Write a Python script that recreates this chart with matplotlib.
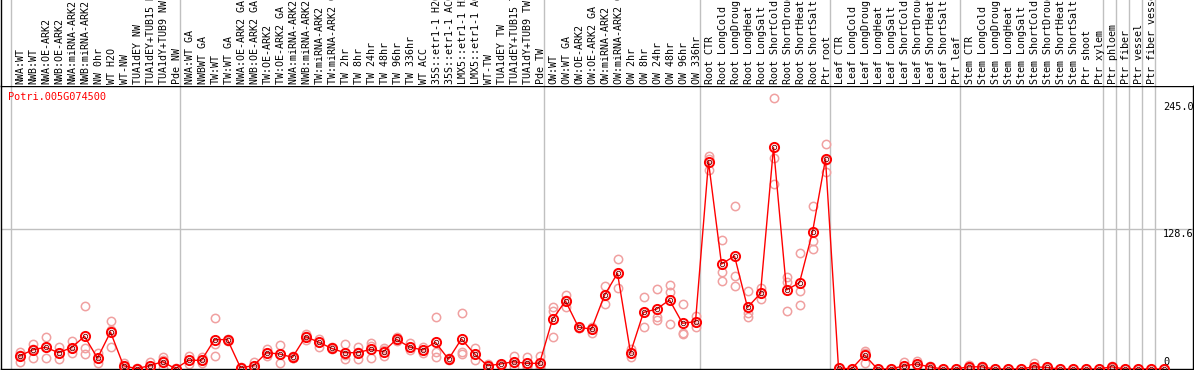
import numpy as np
import matplotlib.pyplot as plt

gene = 'Potri.005G074500'

labels = [
    'NWA:WT', 'NWB:WT', 'NWA:OE-ARK2', 'NWB:OE-ARK2', 'NWA:miRNA-ARK2',
    'NWB:miRNA-ARK2', 'NW 0hr', 'WT H2O', 'WT-NW', 'TUA1dEY NW',
    'TUA1dEY+TUB15 NW', 'TUA1dY+TUB9 NW', 'Pde NW',
    'NWA:WT GA', 'NWBWT GA', 'TW:WT', 'TW:WT GA', 'NWA:OE-ARK2 GA',
    'NWB:OE-ARK2 GA', 'TW:OE-ARK2', 'TW:OE-ARK2 GA', 'NWA:miRNA-ARK2 GA',
    'NWB:miRNA-ARK2 GA', 'TW:miRNA-ARK2', 'TW:miRNA-ARK2 GA', 'TW 2hr',
    'TW 8hr', 'TW 24hr', 'TW 48hr', 'TW 96hr', 'TW 336hr', 'WT ACC',
    '35S::etr1-1 H2O', '35S::etr1-1 ACC', 'LMX5::etr1-1 H2O',
    'LMX5::etr1-1 ACC', 'WT-TW', 'TUA1dEY TW', 'TUA1dEY+TUB15 TW',
    'TUA1dY+TUB9 TW', 'Pde TW',
    'OW:WT', 'OW:WT GA', 'OW:OE-ARK2', 'OW:OE-ARK2 GA', 'OW:miRNA-ARK2',
    'OW:miRNA-ARK2 GA', 'OW 2hr', 'OW 8hr', 'OW 24hr', 'OW 48hr', 'OW 96hr',
    'OW 336hr',
    'Root CTR', 'Root LongCold', 'Root LongDrought', 'Root LongHeat',
    'Root LongSalt', 'Root ShortCold', 'Root ShortDrought', 'Root ShortHeat',
    'Root ShortSalt', 'Ptr root',
    'Leaf CTR', 'Leaf LongCold', 'Leaf LongDrought', 'Leaf LongHeat',
    'Leaf LongSalt', 'Leaf ShortCold', 'Leaf ShortDrought', 'Leaf ShortHeat',
    'Leaf ShortSalt', 'Ptr leaf',
    'Stem CTR', 'Stem LongCold', 'Stem LongDrought', 'Stem LongHeat',
    'Stem LongSalt', 'Stem ShortCold', 'Stem ShortDrought', 'Stem ShortHeat',
    'Stem ShortSalt', 'Ptr shoot', 'Ptr xylem',
    'Ptr phloem', 'Ptr fiber', 'Ptr vessel', 'Ptr fiber vessel',
]

means = [
    12, 17.5, 20, 15, 19.6, 30, 10, 34, 3, 0.3, 3, 6.7, 0.3,
    8, 8, 27, 27, 1.2, 3, 15, 13.8, 10.7, 29.7, 24.8, 19, 15, 15, 18, 16,
    27.3, 20.2, 17.5, 24.5, 9, 27.6, 13.8, 3, 4.6, 6.7, 5.2, 5.2,
    45.6, 62.5, 38.3, 36.7, 67.7, 88, 15, 52, 55, 63.4, 42, 43.5,
    190.4, 96.4, 103.8, 56.6, 69.5, 203.5, 72.6, 79.3, 125.8, 192.9,
    1, 0, 12.9, 0, 0, 2.8, 4.6, 2, 0, 0,
    2, 2, 0, 0, 0, 2, 1.5, 0, 0, 0, 0, 2,
    0, 0, 0, 0,
]

reps = [
    [16, 6, 13], [23, 10.4, 18], [29, 9.8, 20], [20, 8.9, 15],
    [25.7, 15, 19], [57.6, 19, 13.8], [14.4, 5.8, 10], [43.8, 19.9, 36],
    [5.2, 1, 3], [0.5, 0, 0.3], [6.7, 1, 0.8], [10.7, 8, 1], [0.5, 0, 0.3],
    [12, 4.6, 8], [11, 5.8, 8], [46.8, 22.6, 12], [27, 26, 28],
    [1.5, 0.8, 1], [6.7, 1, 1], [18, 12, 15], [22, 5.2, 14], [12, 10, 10],
    [32, 27, 30], [28, 20.6, 25], [20.6, 18, 19], [23, 8.9, 13],
    [20, 8.9, 16], [23.6, 21, 10], [19, 12, 17], [27, 29, 26],
    [23.6, 17.2, 20], [20, 15, 17], [47.5, 15.3, 10.7], [9, 10, 8],
    [51, 16, 13.8], [19, 8.3, 14], [4.6, 2, 3], [5, 4, 4.6],
    [12, 1.5, 6.7], [11.3, 2, 3], [12, 0.5, 4],
    [56.6, 53, 29], [68, 56.6, 63], [38, 39, 38], [33.4, 37, 39],
    [76.2, 59.7, 68], [101.3, 74.4, 88], [18.7, 11.3, 15], [65.8, 38.9, 52],
    [73.2, 47.5, 45], [77, 71, 41], [59.4, 33.4, 32], [48.7, 38.9, 43],
    [195.6, 182.8, 193], [118.5, 88.8, 80.8], [149.7, 85.4, 76.2],
    [71.6, 51, 48], [74, 64, 70], [248.6, 193.5, 170], [84.2, 80, 53.3],
    [106.8, 58.8, 71.6], [149.7, 117.3, 110], [206.7, 180.7, 192],
    [1, 1, 1], [0, 0, 0], [16.8, 5.8, 15], [0, 0, 0], [0, 0, 0],
    [6.4, 1, 1], [7.3, 3, 3.5], [3, 1, 2], [0, 0, 0], [0, 0, 0],
    [3.5, 1, 1.5], [3, 1, 2], [0, 0, 0], [0, 0, 0], [0, 0, 0],
    [5.5, 0, 0.5], [2, 1, 1.5], [0, 0, 0], [0, 0, 0], [0, 0, 0], [0, 0, 0],
    [3, 1, 2],
    [0, 0, 0], [0, 0, 0], [0, 0, 0], [0, 0, 0],
]

# column index where each sample group starts (plus the end)
group_edges = [0, 13, 41, 53, 63, 73, 84, 85, 86, 87, 88]
yticks = [0, 128.6, 245.0]

W, H = 1194, 370
fig = plt.figure(figsize=(W / 100, H / 100), dpi=100)

# pixel layout: point i sits at 19.5 + 13*i px, group lines at 11 + 13*k px
def px_to_x(p):
    return (p - 19.5) / 13.0

xl = (px_to_x(1), px_to_x(1193))
top_px, bot_px = 86, 369

ax = fig.add_axes([1 / W, (H - bot_px) / H, 1192 / W, (bot_px - top_px) / H])
lab = fig.add_axes([1 / W, (H - top_px) / H, 1192 / W, top_px / H])

mono = 'DejaVu Sans Mono'
grey = '#c0c0c0'

x = np.arange(len(means))
for a in (ax, lab):
    a.set_xlim(*xl)
    a.set_xticks([])
    a.set_yticks([])
    for e in group_edges:
        a.axvline(px_to_x(11 + 13 * e), color=grey, lw=1.0, zorder=0)

ax.set_ylim(0, 260)
ax.axhline(128.6, color=grey, lw=1.0, zorder=0)
for s in ax.spines.values():
    s.set_linewidth(1.0)
lab.set_ylim(0, 1)
for k in ('top', 'right', 'bottom'):
    lab.spines[k].set_visible(False)
lab.spines['left'].set_linewidth(1.0)

# replicate values
rx = [xi for xi, r in zip(x, reps) for _ in r]
ry = [v for r in reps for v in r]
ax.plot(rx, ry, ls='none', marker='o', ms=6.0, mfc='none', mec='#f0a0a0',
        mew=1.1, zorder=2)

# mean profile
ax.plot(x, means, color='red', lw=1.0, zorder=3)
ax.plot(x, means, ls='none', marker='o', ms=6.6, mfc='none', mec='red',
        mew=1.4, zorder=5)
ax.plot(x, means, ls='none', marker='o', ms=3.2, mfc='none', mec='#700000',
        mew=0.6, zorder=4)

# sample labels above the plot
for xi, t in zip(x, labels):
    lab.text(xi + 0.08, 0.02, t, rotation=90, ha='center', va='bottom',
             fontsize=7.2, family=mono, color='black', clip_on=False)

ax.text(px_to_x(8), 260 - 11 / 1.0887, gene, color='red', fontsize=7.4,
        family=mono, ha='left', va='center')

tx = px_to_x(1163)
for v in yticks:
    ax.text(tx, v + (2 if v == 0 else 0), ('%.1f' % v) if v else '0',
            fontsize=7.4, family=mono, ha='left',
            va='bottom' if v == 0 else 'top', clip_on=True)

plt.savefig('out.png', dpi=100)
plt.close()
